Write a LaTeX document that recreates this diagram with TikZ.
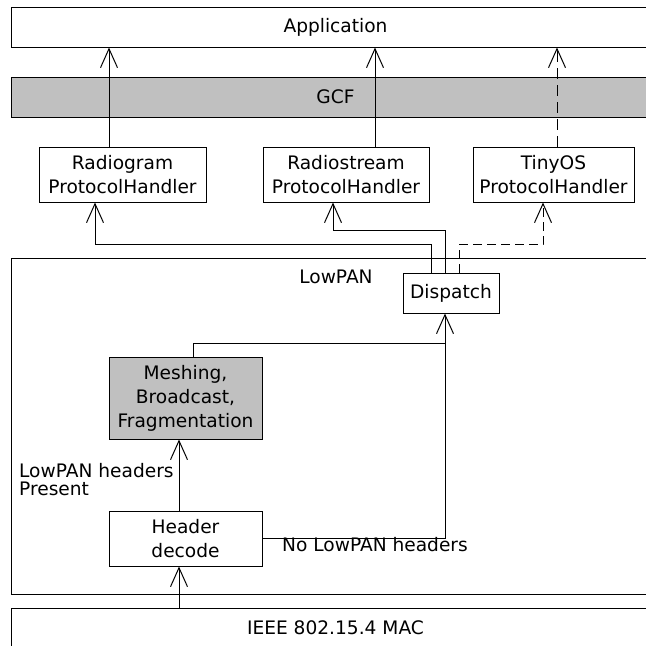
\documentclass[tikz,border=0pt]{standalone}
\usepackage{fontspec}
\setmainfont{DejaVu Sans}
\usepackage{tikz}
\usetikzlibrary{arrows.meta}
\definecolor{layergray}{RGB}{192,192,192}
\tikzset{layer/.style={draw, line width=1pt, minimum width=649pt, minimum height=40pt, inner sep=0pt},
	block/.style={draw, line width=1pt, align=center, inner sep=0pt},
	flow/.style={line width=1pt, -{Straight Barb[length=19pt,width=17pt,line width=1pt]}},
	link/.style={line width=1pt},
	every node/.style={font=\fontsize{18.6}{24}\selectfont}}

\begin{document}
\begin{tikzpicture}[x=1pt,y=-1pt]
		\useasboundingbox (0,0) rectangle (646,646);
		% layers
		\node[layer] (app) at (335.5,27){Application};
		\node[layer, fill=layergray] (gcf) at (335.5,97){GCF};
		\node[layer, minimum height=336pt] (lowpan) at (335.5,426){};
		\node (lowpanlbl) at (336,277){LowPAN};
		\node[layer] (ieee) at (335.5,628){IEEE 802.15.4 MAC};
		% handlers
		\node[block, minimum width=167pt, minimum height=55pt] (radiogram) at (122.5,174.5){Radiogram\\ProtocolHandler};
		\node[block, minimum width=166pt, minimum height=55pt] (radiostream) at (346,174.5){Radiostream\\ProtocolHandler};
		\node[block, minimum width=161pt, minimum height=55pt] (tinyos) at (553.5,174.5){TinyOS\\ProtocolHandler};
		% lowpan internals
		\node[block, fill=white, minimum width=96pt, minimum height=40pt] (dispatch) at (451,293){Dispatch};
		\node[block, fill=layergray, minimum width=153pt, minimum height=82pt] (meshing) at (185.5,398){Meshing,\\Broadcast,\\Fragmentation};
		\node[block, minimum width=153pt, minimum height=55pt] (header) at (185.5,538.5){Header\\decode};
		\node[anchor=north west, inner sep=0pt, align=left, font=\fontsize{18.6}{18}\selectfont] (present) at (19,463){LowPAN headers\\Present};
		\node[anchor=north west, inner sep=0pt] (nohdr) at (282,537){No LowPAN headers};
		\coordinate (join) at (445,343);
		% up to application
		\draw[flow] ([xshift=-13.5pt]radiogram.north) -- ([xshift=-13.5pt]radiogram.north |- app.south);
		\draw[flow] ([xshift=29pt]radiostream.north) -- ([xshift=29pt]radiostream.north |- app.south);
		\draw[flow, dash pattern=on 11pt off 6pt] ([xshift=3.5pt]tinyos.north) -- ([xshift=3.5pt]tinyos.north |- app.south);
		% dispatch to handlers
		\draw[flow] ([xshift=-20pt]dispatch.north) -- ++(0,-28) -| ([xshift=-27.5pt]radiogram.south);
		\draw[flow] ([xshift=-6pt]dispatch.north) -- ++(0,-42) -| ([xshift=-13pt]radiostream.south);
		\draw[flow, dash pattern=on 9pt off 5pt] ([xshift=8pt]dispatch.north) -- ++(0,-28) -| ([xshift=-10.5pt]tinyos.south);
		% inside lowpan
		\draw[flow] ([xshift=-6.5pt]header.south |- ieee.north) -- ([xshift=-6.5pt]header.south);
		\draw[flow] ([xshift=-6.5pt]header.north) -- ([xshift=-6.5pt]meshing.south);
		\draw[link] ([xshift=7.5pt]meshing.north) |- (join);
		\draw[link] (header.east) -| (join);
		\draw[flow] (join) -- ([xshift=-6pt]dispatch.south);
		\end{tikzpicture}
\end{document}
